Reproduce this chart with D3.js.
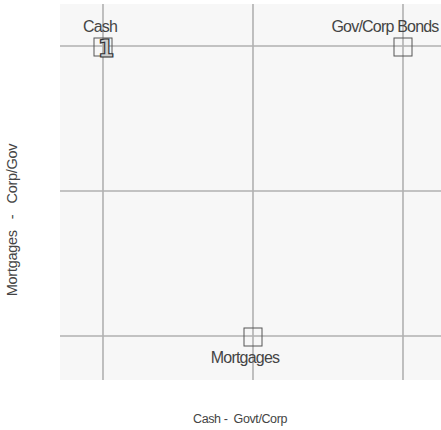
<!DOCTYPE html>
<html>
<head>
<meta charset="utf-8">
<script src="https://cdn.jsdelivr.net/npm/d3@7"></script>
<style>
  body { margin: 0; background: #fff; }
  svg text { font-family: "Liberation Sans", Arial, sans-serif; fill: #444; white-space: pre; }
</style>
</head>
<body>
<div id="chart"></div>
<script>
const names = ["Cash", "Gov/Corp Bonds", "Mortgages"];
const xVals = [0, 1, 0.5];
const yVals = [1, 1, 0];
const labelSide = ["above", "above", "below"];
const gridVals = [0, 0.5, 1];
const badge = "1"; // marker drawn on the first point

const width = 441, height = 430;
const plot = {left: 60, top: 4, right: 446, bottom: 380};
const padX = 43, padTop = 42, padBottom = 44;

const svg = d3.select("#chart").append("svg")
  .attr("width", width)
  .attr("height", height);

const x = d3.scaleLinear().domain([0, 1]).range([plot.left + padX, plot.right - padX]);
const y = d3.scaleLinear().domain([0, 1]).range([plot.bottom - padBottom, plot.top + padTop]);

svg.append("rect")
  .attr("x", plot.left).attr("y", plot.top)
  .attr("width", plot.right - plot.left).attr("height", plot.bottom - plot.top)
  .attr("fill", "#f7f7f7");

const g = svg.append("g");

g.selectAll(".vgrid").data(gridVals).enter().append("line")
  .attr("x1", d => x(d)).attr("x2", d => x(d))
  .attr("y1", plot.top).attr("y2", plot.bottom)
  .style("stroke", "#b0b0b0").style("stroke-width", 1.6);

g.selectAll(".hgrid").data(gridVals).enter().append("line")
  .attr("x1", plot.left).attr("x2", plot.right)
  .attr("y1", d => y(d)).attr("y2", d => y(d))
  .style("stroke", "#b0b0b0").style("stroke-width", 1.6);

const pts = names.map((n, i) => ({name: n, x: xVals[i], y: yVals[i], side: labelSide[i]}));

// points: open squares
g.selectAll(".pt").data(pts).enter().append("rect")
  .attr("x", d => x(d.x) - 9).attr("y", d => y(d.y) - 8)
  .attr("width", 18).attr("height", 18)
  .attr("fill", "none")
  .style("stroke", "#555").style("stroke-width", 1);

// nudges so the labels sit where the original put them
const nudge = {"Cash": -3, "Gov/Corp Bonds": -18, "Mortgages": -8};

g.selectAll(".lbl").data(pts).enter().append("text")
  .attr("x", d => x(d.x) + nudge[d.name])
  .attr("y", d => d.side === "above" ? y(d.y) - 14 : y(d.y) + 27)
  .attr("text-anchor", "middle")
  .style("font-size", "16px")
  .style("letter-spacing", "-0.8px")
  .text(d => d.name);

// outlined "1" on the first point
g.append("text")
  .attr("x", x(pts[0].x) + 3)
  .attr("y", y(pts[0].y) + 11)
  .attr("text-anchor", "middle")
  .style("font-family", "'DejaVu Sans', sans-serif")
  .style("font-weight", "bold")
  .style("font-size", "24px")
  .style("fill", "#cfcfcf")
  .style("stroke", "#333")
  .style("stroke-width", 1.2)
  .text(badge);

// axis titles
svg.append("text")
  .attr("x", 240).attr("y", 423)
  .attr("text-anchor", "middle")
  .style("font-size", "12.5px")
  .style("letter-spacing", "-0.4px")
  .text("Cash -  Govt/Corp");

svg.append("text")
  .attr("transform", "translate(17,220) rotate(-90)")
  .attr("text-anchor", "middle")
  .style("font-size", "14.5px")
  .style("letter-spacing", "-0.3px")
  .text("Mortgages   -   Corp/Gov");
</script>
</body>
</html>
